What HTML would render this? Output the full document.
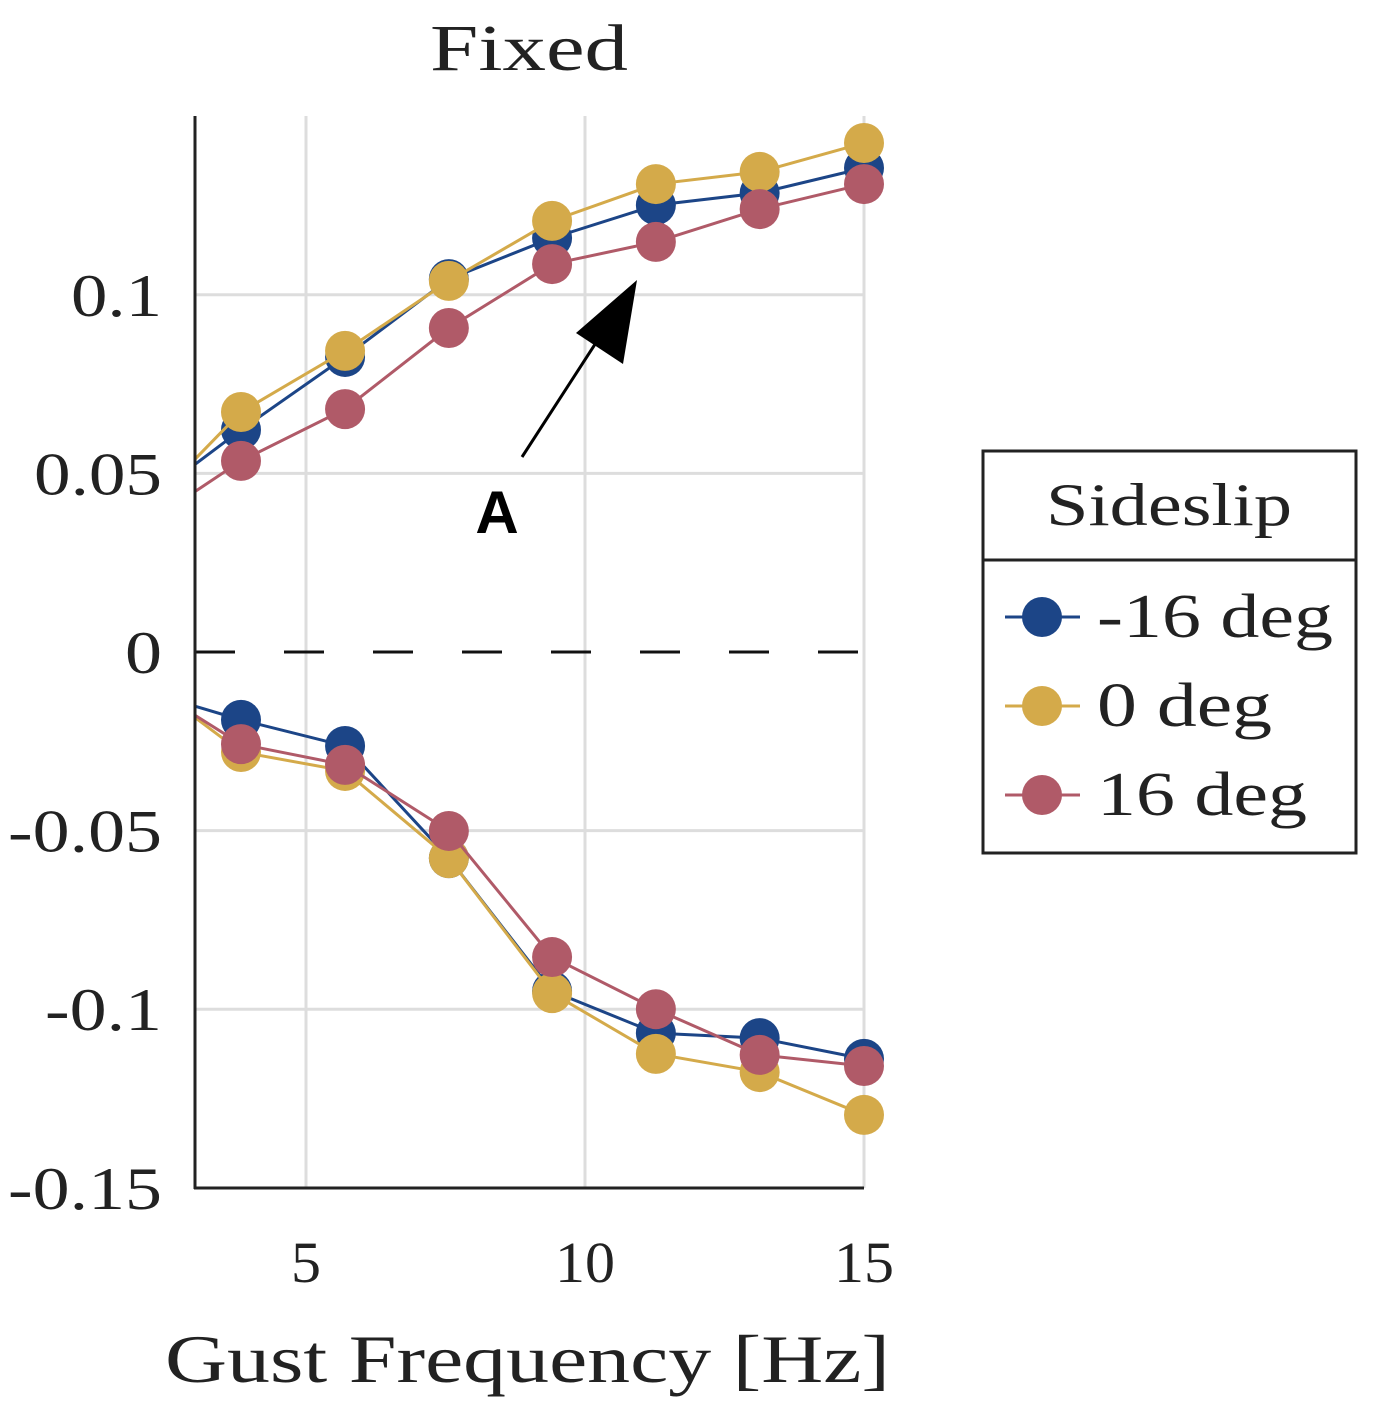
<!DOCTYPE html>
<html><head><meta charset="utf-8"><style>
body{margin:0;background:#fff}
svg text{font-family:"Liberation Serif",serif;fill:#222}
</style></head><body>
<svg width="1394" height="1412" id="c">
<defs><clipPath id="clip"><rect x="195" y="60" width="720" height="1180"/></clipPath></defs>
<text x="430" y="70" font-size="66" textLength="198" lengthAdjust="spacingAndGlyphs">Fixed</text>
<g id="grid"></g>
<g id="ticks"></g>
<line x1="195" y1="652" x2="864" y2="652" stroke="#111" stroke-width="3" stroke-dasharray="40,49"/>
<g id="series" clip-path="url(#clip)"></g>
<line x1="195" y1="116" x2="195" y2="1189" stroke="#222" stroke-width="3"/>
<line x1="194" y1="1188" x2="864" y2="1188" stroke="#222" stroke-width="3"/>
<text x="165" y="1382" font-size="68" textLength="725" lengthAdjust="spacingAndGlyphs">Gust Frequency [Hz]</text>
<g>
<line x1="522" y1="457" x2="612" y2="318" stroke="#000" stroke-width="3"/>
<polygon points="637,280 623,364 576,333" fill="#000"/>
</g>
<text x="497" y="533" font-size="60" font-weight="bold" text-anchor="middle" style="font-family:'Liberation Sans',sans-serif;fill:#000">A</text>
<g>
<rect x="983" y="451" width="373" height="402" fill="#fff" stroke="#222" stroke-width="3"/>
<line x1="983" y1="560" x2="1356" y2="560" stroke="#222" stroke-width="3"/>
<text x="1046" y="525" font-size="60" textLength="246" lengthAdjust="spacingAndGlyphs">Sideslip</text>
<g id="leg"></g>
</g>
</svg>
<script>
const xVals=[1.97,3.835,5.70,7.56,9.41,11.27,13.13,15.0];
const seriesNames=['-16 deg','0 deg','16 deg'];
const colors=['#1c4587','#d4aa4a','#b05a68'];
const blueTop=[0.0403,0.0622,0.0826,0.1044,0.1159,0.1251,0.1285,0.1355];
const goldTop=[0.0373,0.0672,0.0843,0.1039,0.1207,0.1310,0.1344,0.1425];
const redTop=[0.0341,0.0535,0.0680,0.0907,0.1086,0.1148,0.1240,0.1310];
const blueBot=[-0.0103,-0.0190,-0.0263,-0.0577,-0.0949,-0.1067,-0.1081,-0.1139];
const goldBot=[-0.0061,-0.0280,-0.0333,-0.0577,-0.0955,-0.1125,-0.1176,-0.1296];
const redBot=[-0.0075,-0.0258,-0.0316,-0.0501,-0.0854,-0.1000,-0.1128,-0.1159];
const xTicks=[5,10,15];
const yTicks=[0.1,0.05,0,-0.05,-0.1,-0.15];
const yTickLabels=['0.1','0.05','0','-0.05','-0.1','-0.15'];
const NS='http://www.w3.org/2000/svg';
const X=v=>194.4+(v-3)*55.8;
const Y=v=>652-v*3572;
function mk(t,a,p){const e=document.createElementNS(NS,t);for(const k in a)e.setAttribute(k,a[k]);p.appendChild(e);return e;}
const grid=document.getElementById('grid'),ticks=document.getElementById('ticks');
xTicks.forEach(t=>{
 const l=mk('line',{x1:X(t),x2:X(t),y1:116,y2:1188,stroke:'#ddd','stroke-width':3},grid);
 
 
 const w=String(t).length*30;
 const tx=mk('text',{x:X(t)-w/2,y:1282,'font-size':58,textLength:w,lengthAdjust:'spacingAndGlyphs'},ticks);tx.textContent=t;
 
 
});
yTicks.forEach((t,i)=>{
 if(t!==0&&t!==-0.15){const l=mk('line',{x1:195,x2:864,y1:Y(t),y2:Y(t),stroke:'#ddd','stroke-width':3},grid);
 
 }
 const s=yTickLabels[i];
 let w=0;for(const ch of s)w+=(ch==='.'?17:(ch==='-'?26:37));
 const tx=mk('text',{x:162-w,y:Y(t)+21,'font-size':60,textLength:w,lengthAdjust:'spacingAndGlyphs'},ticks);tx.textContent=s;
 
 
});
const sg=document.getElementById('series');
const all=[[blueTop,blueBot],[goldTop,goldBot],[redTop,redBot]];
all.forEach((pair,s)=>{
 const g=mk('g',{},sg);
 
 
 pair.forEach(arr=>{
  const pl=mk('polyline',{points:arr.map((v,i)=>X(xVals[i])+','+Y(v)).join(' '),fill:'none',stroke:colors[s],'stroke-width':3},g);
  
  
  arr.forEach((v,i)=>{
   const c=mk('circle',{cx:X(xVals[i]),cy:Y(v),r:20,fill:colors[s]},g);
   
   
  });
 });
});
const leg=document.getElementById('leg');
const legW=[236,175,210];
seriesNames.forEach((n,i)=>{
 const y=617+i*89;
 const e=mk('g',{},leg);
 
 
 mk('line',{x1:1005,x2:1080,y1:y,y2:y,stroke:colors[i],'stroke-width':3},e);
 mk('circle',{cx:1042,cy:y,r:20,fill:colors[i]},e);
 const t=mk('text',{x:1097,y:y+20,'font-size':62,textLength:legW[i],lengthAdjust:'spacingAndGlyphs'},e);t.textContent=n;
});
</script>
</body></html>
